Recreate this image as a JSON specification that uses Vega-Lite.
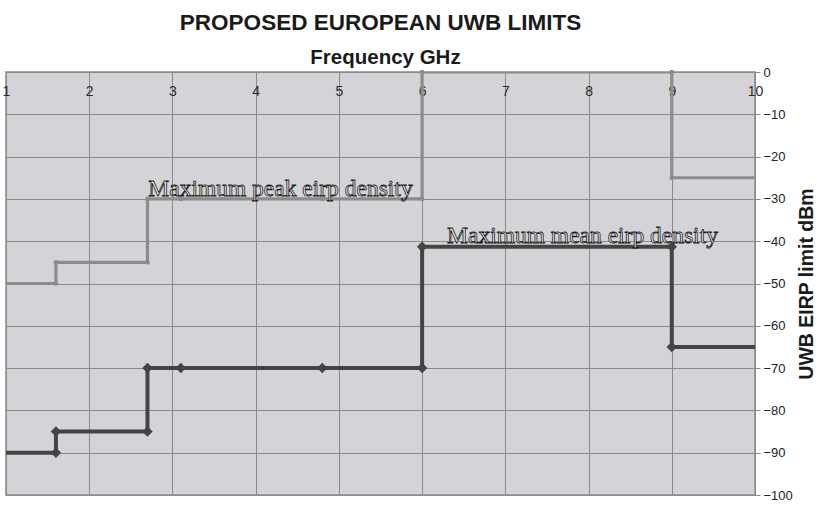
{
  "$schema": "https://vega.github.io/schema/vega-lite/v6.json",
  "width": 749,
  "height": 423,
  "autosize": {"type": "none"},
  "padding": {"left": 6, "top": 72, "right": 61, "bottom": 10},
  "background": "#ffffff",
  "title": {
    "text": "PROPOSED EUROPEAN UWB LIMITS",
    "font": "Liberation Sans",
    "fontSize": 22.5,
    "fontWeight": "bold",
    "color": "#1a1a1a",
    "anchor": "middle",
    "frame": "group",
    "offset": 13
  },
  "config": {
    "view": {"fill": "#d4d4d8", "stroke": "#8a8a8a", "strokeWidth": 1.5},
    "axis": {"gridColor": "#8a8a8a", "gridOpacity": 1, "gridWidth": 1, "labelFont": "Liberation Sans", "titleFont": "Liberation Sans"}
  },
  "datasets": {
    "lines": [
      {"series": "peak", "i": 0, "f": 1, "v": -50, "m": false},
      {"series": "peak", "i": 1, "f": 1.6, "v": -50, "m": true},
      {"series": "peak", "i": 2, "f": 1.6, "v": -45, "m": true},
      {"series": "peak", "i": 3, "f": 2.7, "v": -45, "m": true},
      {"series": "peak", "i": 4, "f": 2.7, "v": -30, "m": true},
      {"series": "peak", "i": 5, "f": 3.1, "v": -30, "m": true},
      {"series": "peak", "i": 6, "f": 4.8, "v": -30, "m": true},
      {"series": "peak", "i": 7, "f": 6, "v": -30, "m": true},
      {"series": "peak", "i": 8, "f": 6, "v": 0, "m": true},
      {"series": "peak", "i": 9, "f": 9, "v": 0, "m": true},
      {"series": "peak", "i": 10, "f": 9, "v": -25, "m": true},
      {"series": "peak", "i": 11, "f": 10, "v": -25, "m": false},
      {"series": "mean", "i": 0, "f": 1, "v": -90, "m": false},
      {"series": "mean", "i": 1, "f": 1.6, "v": -90, "m": true},
      {"series": "mean", "i": 2, "f": 1.6, "v": -85, "m": true},
      {"series": "mean", "i": 3, "f": 2.7, "v": -85, "m": true},
      {"series": "mean", "i": 4, "f": 2.7, "v": -70, "m": true},
      {"series": "mean", "i": 5, "f": 3.1, "v": -70, "m": true},
      {"series": "mean", "i": 6, "f": 4.8, "v": -70, "m": true},
      {"series": "mean", "i": 7, "f": 6, "v": -70, "m": true},
      {"series": "mean", "i": 8, "f": 6, "v": -41.3, "m": true},
      {"series": "mean", "i": 9, "f": 9, "v": -41.3, "m": true},
      {"series": "mean", "i": 10, "f": 9, "v": -65, "m": true},
      {"series": "mean", "i": 11, "f": 10, "v": -65, "m": false}
    ],
    "labels": [
      {"label": "Maximum peak eirp density", "f": 2.71, "v": -29.3},
      {"label": "Maximum mean eirp density", "f": 6.3, "v": -40.4}
    ]
  },
  "layer": [
    {
      "data": {"name": "lines"},
      "mark": {"type": "line", "clip": true},
      "encoding": {
        "x": {
          "field": "f", "type": "quantitative",
          "scale": {"domain": [1, 10], "nice": false, "zero": false},
          "axis": {
            "orient": "top",
            "values": [1, 2, 3, 4, 5, 6, 7, 8, 9, 10],
            "format": "d",
            "domain": false,
            "ticks": false,
            "tickSize": 0,
            "labelPadding": -23,
            "labelBaseline": "alphabetic",
            "labelFontSize": 14,
            "labelColor": "#2a2a2a",
            "labelFlush": false,
            "labelOverlap": false,
            "title": "Frequency GHz",
            "titleFontSize": 20.5,
            "titleFontWeight": "bold",
            "titleColor": "#1a1a1a",
            "titleBaseline": "alphabetic",
            "titleY": -9,
            "titleX": 379,
            "titleAlign": "center"
          }
        },
        "y": {
          "field": "v", "type": "quantitative",
          "scale": {"domain": [-100, 0], "nice": false},
          "axis": {
            "orient": "right",
            "values": [0, -10, -20, -30, -40, -50, -60, -70, -80, -90, -100],
            "format": "d",
            "domain": false,
            "tickSize": 5,
            "tickColor": "#8a8a8a",
            "labelPadding": 3,
            "labelFontSize": 13,
            "labelColor": "#222222",
            "title": "UWB EIRP limit dBm",
            "titleFontSize": 19.5,
            "titleFontWeight": "bold",
            "titleColor": "#1a1a1a",
            "titleAngle": -90,
            "titleAlign": "center",
            "titleBaseline": "middle",
            "titleX": 51,
            "titleY": 211.5
          }
        },
        "color": {
          "field": "series", "type": "nominal",
          "scale": {"domain": ["peak", "mean"], "range": ["#8c8c8c", "#444444"]},
          "legend": null
        },
        "strokeWidth": {
          "field": "series", "type": "nominal",
          "scale": {"domain": ["peak", "mean"], "range": [3.2, 4]},
          "legend": null
        },
        "detail": {"field": "series"},
        "order": {"field": "i", "type": "quantitative"}
      }
    },
    {
      "data": {"name": "lines"},
      "transform": [{"filter": "datum.m"}],
      "mark": {"type": "point", "filled": true, "opacity": 1},
      "encoding": {
        "x": {"field": "f", "type": "quantitative"},
        "y": {"field": "v", "type": "quantitative"},
        "color": {"field": "series", "type": "nominal", "legend": null},
        "shape": {
          "field": "series", "type": "nominal",
          "scale": {"domain": ["peak", "mean"], "range": ["circle", "diamond"]},
          "legend": null
        },
        "size": {
          "field": "series", "type": "nominal",
          "scale": {"domain": ["peak", "mean"], "range": [22, 110]},
          "legend": null
        }
      }
    },
    {
      "data": {"name": "labels"},
      "mark": {
        "type": "text",
        "align": "left",
        "baseline": "alphabetic",
        "font": "Liberation Serif",
        "fontSize": 23.5,
        "fill": "#eeeeee",
        "stroke": "#1a1a1a",
        "strokeWidth": 0.8
      },
      "encoding": {
        "x": {"field": "f", "type": "quantitative"},
        "y": {"field": "v", "type": "quantitative"},
        "text": {"field": "label"}
      }
    }
  ]
}
